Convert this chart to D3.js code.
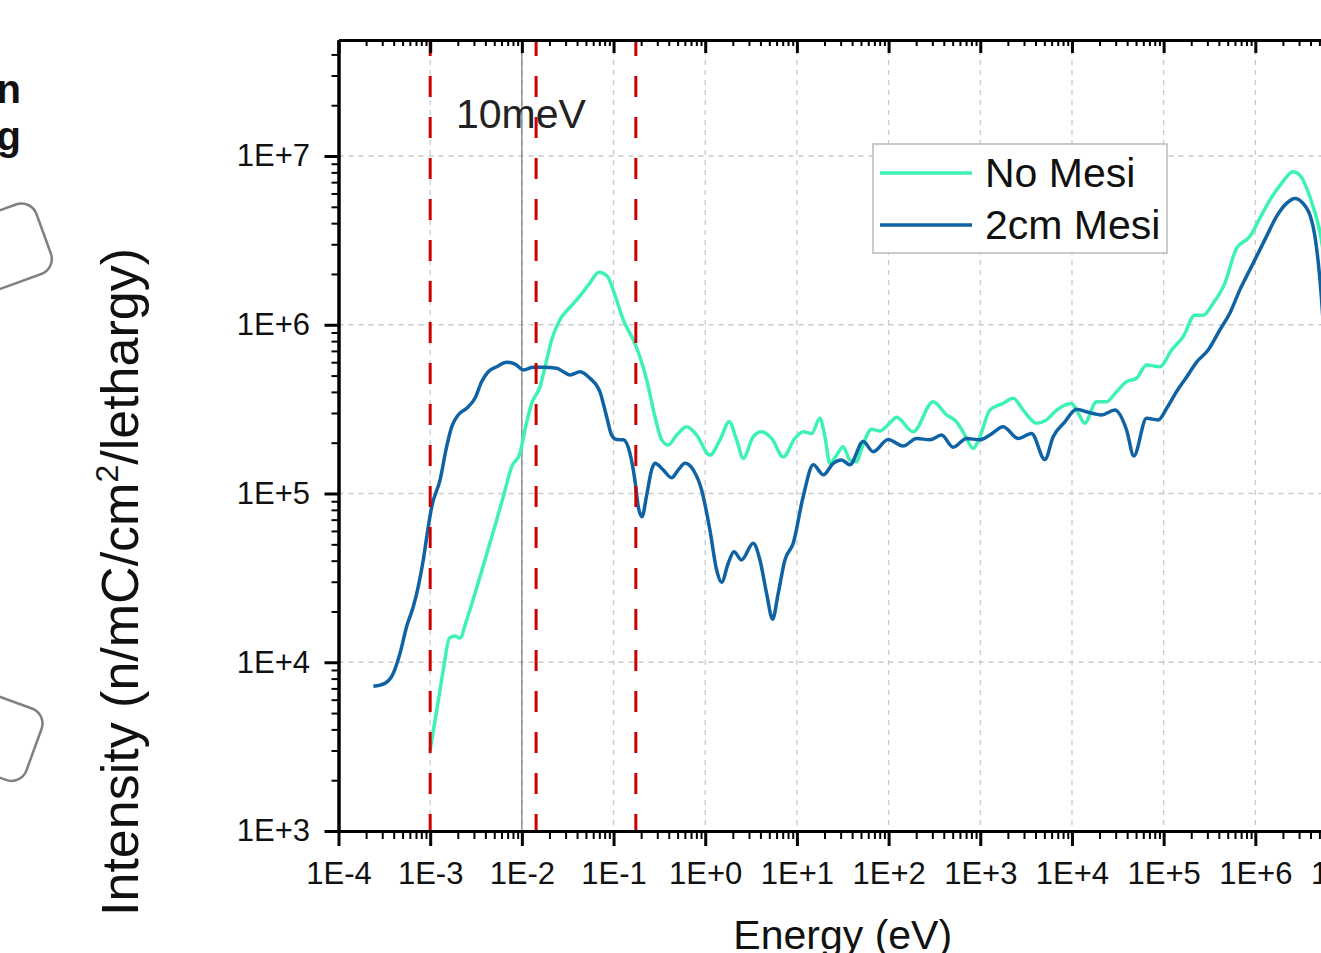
<!DOCTYPE html>
<html lang="en">
<head>
<meta charset="UTF-8">
<title>Neutron spectrum - Mesi</title>
<style>
  body { margin: 0; background: #fff; }
  svg { display: block; font-family: Arial, "Liberation Sans", sans-serif; }
  .tick text { fill: #111; }
</style>
</head>
<body>
<div id="chart"></div>
<script src="https://d3js.org/d3.v7.min.js"></script>
<script>
// energies (eV) and intensities (n/mC/cm2/lethargy)
const noMesiE = [1.0e-3, 1.18e-3, 1.39e-3, 1.62e-3, 1.86e-3, 2.11e-3, 2.5e-3, 3.08e-3, 3.96e-3, 5.31e-3,
  6.27e-3, 7.74e-3, 9.53e-3, 1.08e-2, 1.28e-2, 1.58e-2, 1.79e-2, 2.11e-2, 2.6e-2, 3.35e-2,
  4.3e-2, 5.53e-2, 6.93e-2, 8.47e-2, 0.1036, 0.1276, 0.164, 0.194, 0.23, 0.283,
  0.335, 0.395, 0.488, 0.627, 0.806, 1.125, 1.447, 1.827, 2.2, 2.6,
  3.34, 4.12, 5.3, 7.09, 9.51, 11.7, 14.5, 17.8, 20.2, 22.9,
  27.1, 32.0, 37.8, 44.8, 50.8, 65.3, 80.4, 103, 122, 185,
  306, 429, 551, 679, 837, 990, 1272, 1776, 2285, 2937,
  4112, 5284, 6792, 9899, 1.17e4, 1.38e4, 1.85e4, 2.38e4, 3.06e4, 3.94e4,
  5.06e4, 6.51e4, 9.09e4, 1.22e5, 1.63e5, 2.19e5, 2.7e5, 3.47e5, 4.65e5, 6.24e5,
  8.71e5, 1.12e6, 1.44e6, 1.93e6, 2.58e6, 3.05e6, 3.93e6, 5.18e6, 6.49e6];
const noMesiI = [3.02e3, 5.21e3, 9.0e3, 1.39e4, 1.43e4, 1.39e4, 1.78e4, 2.56e4, 4.04e4, 6.97e4,
  9.57e4, 1.44e5, 1.73e5, 2.38e5, 3.42e5, 4.3e5, 5.64e5, 8.13e5, 1.07e6, 1.27e6,
  1.48e6, 1.77e6, 2.05e6, 1.95e6, 1.5e6, 1.07e6, 8.13e5, 6.44e5, 4.71e5, 2.85e5,
  2.08e5, 1.94e5, 2.22e5, 2.49e5, 2.22e5, 1.69e5, 2.08e5, 2.66e5, 2.08e5, 1.62e5,
  2.17e5, 2.32e5, 2.12e5, 1.65e5, 2.12e5, 2.32e5, 2.27e5, 2.79e5, 2.17e5, 1.51e5,
  1.69e5, 1.89e5, 1.58e5, 1.54e5, 1.85e5, 2.4e5, 2.35e5, 2.61e5, 2.83e5, 2.32e5,
  3.5e5, 2.92e5, 2.66e5, 2.22e5, 1.85e5, 2.17e5, 3.12e5, 3.42e5, 3.67e5, 3.12e5,
  2.61e5, 2.73e5, 3.12e5, 3.42e5, 2.99e5, 2.61e5, 3.5e5, 3.5e5, 4.01e5, 4.6e5,
  4.82e5, 5.77e5, 5.64e5, 7.08e5, 8.49e5, 1.14e6, 1.14e6, 1.34e6, 1.76e6, 2.84e6,
  3.33e6, 4.28e6, 5.48e6, 6.89e6, 8.07e6, 7.72e6, 5.74e6, 3.33e6, 1.4e6];

const mesiE = [2.4e-4, 3.21e-4, 3.96e-4, 4.69e-4, 5.54e-4, 6.54e-4, 7.41e-4, 8.41e-4, 9.53e-4, 1.04e-3,
  1.28e-3, 1.51e-3, 1.72e-3, 2.02e-3, 2.5e-3, 3.08e-3, 3.64e-3, 4.3e-3, 5.31e-3, 6.82e-3,
  8.41e-3, 1.04e-2, 1.33e-2, 1.71e-2, 2.4e-2, 2.83e-2, 3.35e-2, 4.3e-2, 5.53e-2, 7.1e-2,
  8.41e-2, 9.53e-2, 0.108, 0.128, 0.151, 0.171, 0.186, 0.204, 0.23, 0.26,
  0.283, 0.348, 0.43, 0.508, 0.601, 0.74, 0.913, 1.125, 1.331, 1.509,
  1.781, 2.056, 2.49, 3.34, 3.95, 4.67, 5.43, 6.25, 7.4, 9.11,
  11.7, 15.1, 19.4, 24.9, 30.7, 37.8, 52.8, 67.9, 99, 144,
  202, 282, 378, 506, 709, 990, 1272, 1776, 2590, 3626,
  5063, 6237, 8368, 1.12e4, 1.44e4, 2.1e4, 2.94e4, 3.94e4, 4.73e4, 6.51e4,
  8.71e4, 1.08e5, 1.38e5, 1.75e5, 2.29e5, 3.06e5, 4.1e5, 5.27e5, 6.78e5, 9.46e5,
  1.32e6, 1.7e6, 2.19e6, 2.7e6, 3.32e6, 4.27e6, 5.18e6, 6.17e6];
const mesiI = [7.2e3, 7.5e3, 8.6e3, 1.13e4, 1.63e4, 2.13e4, 2.81e4, 4.04e4, 6.35e4, 8.36e4,
  1.2e5, 1.89e5, 2.49e5, 2.92e5, 3.2e5, 3.67e5, 4.6e5, 5.27e5, 5.64e5, 6.0e5,
  5.85e5, 5.4e5, 5.6e5, 5.6e5, 5.52e5, 5.27e5, 5.04e5, 5.27e5, 4.82e5, 4.01e5,
  2.85e5, 2.22e5, 2.09e5, 2.08e5, 1.73e5, 1.2e5, 8.36e4, 7.29e4, 9.8e4, 1.38e5,
  1.51e5, 1.38e5, 1.24e5, 1.38e5, 1.51e5, 1.38e5, 1.05e5, 6.08e4, 3.52e4, 2.98e4,
  3.86e4, 4.52e4, 4.04e4, 5.07e4, 4.04e4, 2.56e4, 1.8e4, 2.56e4, 4.04e4, 5.07e4,
  9.57e4, 1.48e5, 1.29e5, 1.51e5, 1.58e5, 1.48e5, 2.03e5, 1.77e5, 2.09e5, 1.91e5,
  2.12e5, 2.08e5, 2.22e5, 1.88e5, 2.12e5, 2.08e5, 2.22e5, 2.49e5, 2.12e5, 2.27e5,
  1.59e5, 2.17e5, 2.66e5, 3.16e5, 3.05e5, 2.92e5, 3.12e5, 2.38e5, 1.67e5, 2.79e5,
  2.73e5, 3.2e5, 4.01e5, 4.83e5, 6.01e5, 7.08e5, 9.31e5, 1.17e6, 1.61e6, 2.31e6,
  3.33e6, 4.37e6, 5.24e6, 5.61e6, 5.24e6, 3.81e6, 1.61e6, 3.58e5];

const seriesNames = ["No Mesi", "2cm Mesi"];
const seriesColors = ["#3df2b2", "#0f62a3"];
const markerE = [1e-3, 1.43e-2, 1.75e-1];   // red dashed markers
const refLineE = 1e-2;                        // thin solid reference line
const xTickExp = d3.range(-4, 8);
const yTickExp = d3.range(3, 8);

const W = 1321, H = 953;
const pL = 338.5, pR = 1347, pT = 40, pB = 831;

const svg = d3.select("#chart").append("svg")
  .attr("width", W).attr("height", H);
svg.append("rect").attr("width", W).attr("height", H).attr("fill", "#fff");

const x = d3.scaleLog().domain([1e-4, 1e7]).range([pL, pR]);
const y = d3.scaleLog().domain([1e3, 4.87e7]).range([pB, pT]);

const fmt = d => {
  const e = Math.round(Math.log10(d));
  return "1E" + (e >= 0 ? "+" : "") + e;
};
const xMajor = xTickExp.map(e => Math.pow(10, e));
const yMajor = yTickExp.map(e => Math.pow(10, e));
const minorOf = (exps, dom) => {
  const out = [];
  exps.forEach(e => d3.range(2, 10).forEach(k => {
    const v = k * Math.pow(10, e);
    if (v > dom[0] && v < dom[1]) out.push(v);
  }));
  return out;
};
const xMinor = minorOf(xTickExp, x.domain());
const yMinor = minorOf(yTickExp, y.domain());

// bits of the slide to the left of the chart
const deco = svg.append("g");
deco.append("text").attr("x", 21).attr("y", 103).attr("text-anchor", "end")
  .attr("font-size", 40).attr("font-weight", "bold").attr("fill", "#111").text("n");
deco.append("text").attr("x", 21).attr("y", 150).attr("text-anchor", "end")
  .attr("font-size", 40).attr("font-weight", "bold").attr("fill", "#111").text("g");
deco.append("rect").attr("transform", "translate(31,199) rotate(-20)")
  .attr("x", -200).attr("y", 0).attr("width", 200).attr("height", 74).attr("rx", 16)
  .attr("fill", "none").attr("stroke", "#808080").attr("stroke-width", 2.5);
deco.append("rect").attr("transform", "translate(47,714) rotate(20)")
  .attr("x", -200).attr("y", 0).attr("width", 200).attr("height", 76).attr("rx", 16)
  .attr("fill", "none").attr("stroke", "#808080").attr("stroke-width", 2.5);

// gridlines
const grid = svg.append("g").attr("stroke", "#c9c9c9").attr("stroke-width", 1.3)
  .attr("stroke-dasharray", "5,5");
grid.selectAll(".gx").data(xMajor.slice(1)).enter().append("line")
  .attr("x1", d => x(d)).attr("x2", d => x(d)).attr("y1", pT).attr("y2", pB);
grid.selectAll(".gy").data(yMajor.slice(1)).enter().append("line")
  .attr("x1", pL).attr("x2", pR).attr("y1", d => y(d)).attr("y2", d => y(d));

// thin solid line at 10 meV
svg.append("line")
  .attr("x1", x(refLineE)).attr("x2", x(refLineE)).attr("y1", pT).attr("y2", pB)
  .attr("stroke", "#777").attr("stroke-width", 1.2);

svg.append("defs").append("clipPath").attr("id", "plot")
  .append("rect").attr("x", pL).attr("y", pT).attr("width", pR - pL).attr("height", pB - pT);

const line = d3.line().curve(d3.curveMonotoneX)
  .x(d => x(d[0])).y(d => y(d[1]));
const series = [d3.zip(noMesiE, noMesiI), d3.zip(mesiE, mesiI)];

svg.append("g").attr("clip-path", "url(#plot)")
  .selectAll("path").data(series).enter().append("path")
  .attr("d", line)
  .attr("fill", "none")
  .attr("stroke", (d, i) => seriesColors[i])
  .attr("stroke-width", 3.5)
  .attr("stroke-linejoin", "round");

// red dashed markers
svg.selectAll(".marker").data(markerE).enter().append("line")
  .attr("x1", d => x(d)).attr("x2", d => x(d)).attr("y1", pT).attr("y2", pB)
  .attr("stroke", "#cc0000").attr("stroke-width", 3)
  .attr("stroke-dasharray", "21,20").attr("stroke-dashoffset", 5);

svg.append("text").attr("x", 456).attr("y", 128)
  .attr("font-size", 41).attr("fill", "#222").text("10meV");

// axes
function styleAxis(g, w) {
  g.select(".domain").attr("stroke", "#000").attr("stroke-width", 3);
  g.selectAll(".tick line").attr("stroke", "#000").attr("stroke-width", w);
}
svg.append("g").attr("transform", `translate(0,${pB})`)
  .call(d3.axisBottom(x).tickValues(xMinor).tickSize(8).tickFormat("").tickSizeOuter(0))
  .call(g => styleAxis(g, 2));
svg.append("g").attr("transform", `translate(0,${pB})`)
  .call(d3.axisBottom(x).tickValues(xMajor).tickSize(15).tickPadding(16).tickFormat(fmt).tickSizeOuter(0))
  .call(g => styleAxis(g, 3))
  .call(g => g.selectAll("text").attr("font-size", 31));

// top axis, ticks pointing in
svg.append("g").attr("transform", `translate(0,${pT})`)
  .call(d3.axisBottom(x).tickValues(xMinor).tickSize(6).tickFormat("").tickSizeOuter(0))
  .call(g => styleAxis(g, 2));
svg.append("g").attr("transform", `translate(0,${pT})`)
  .call(d3.axisBottom(x).tickValues(xMajor).tickSize(13).tickFormat("").tickSizeOuter(0))
  .call(g => styleAxis(g, 3));

svg.append("g").attr("transform", `translate(${pL},0)`)
  .call(d3.axisLeft(y).tickValues(yMinor).tickSize(7).tickFormat("").tickSizeOuter(0))
  .call(g => styleAxis(g, 2));
svg.append("g").attr("transform", `translate(${pL},0)`)
  .call(d3.axisLeft(y).tickValues(yMajor).tickSize(14).tickPadding(14.5).tickFormat(fmt).tickSizeOuter(0))
  .call(g => styleAxis(g, 3))
  .call(g => g.selectAll("text").attr("font-size", 31));

// axis titles
svg.append("text").attr("x", (pL + pR) / 2).attr("y", 949)
  .attr("text-anchor", "middle").attr("font-size", 41).attr("fill", "#111")
  .text("Energy (eV)");
const yt = svg.append("text").attr("transform", "translate(138,582) rotate(-90)")
  .attr("text-anchor", "middle").attr("font-size", 52).attr("fill", "#111");
yt.append("tspan").text("Intensity (n/mC/cm");
yt.append("tspan").attr("font-size", 32).attr("dy", -20).text("2");
yt.append("tspan").attr("dy", 20).text("/lethargy)");

// legend
const lg = svg.append("g").attr("transform", "translate(873,144)");
lg.append("rect").attr("width", 294).attr("height", 109)
  .attr("fill", "#fff").attr("stroke", "#bbb").attr("stroke-width", 1.5);
seriesNames.forEach((name, i) => {
  const yy = 29 + i * 52;
  lg.append("line").attr("x1", 7).attr("x2", 99).attr("y1", yy).attr("y2", yy)
    .attr("stroke", seriesColors[i]).attr("stroke-width", 3.5);
  lg.append("text").attr("x", 112).attr("y", yy + 14)
    .attr("font-size", 41).attr("fill", "#111").text(name);
});
</script>
</body>
</html>
